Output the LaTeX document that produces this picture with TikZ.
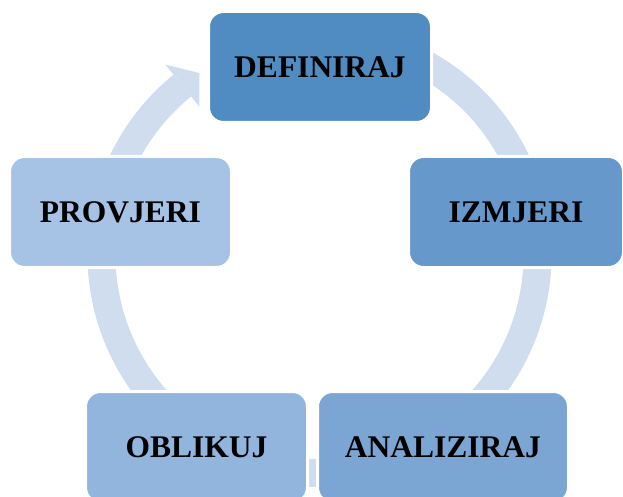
\documentclass[tikz,border=0pt]{standalone}
\usepackage{fontspec}
\setmainfont{Liberation Serif}
\definecolor{ringblue}{RGB}{208,221,239}
\definecolor{defblue}{RGB}{80,140,193}
\definecolor{izmblue}{RGB}{102,152,203}
\definecolor{anablue}{RGB}{123,166,212}
\definecolor{oblblue}{RGB}{145,181,221}
\definecolor{problue}{RGB}{166,194,229}
\tikzset{
	phase/.style={draw=white, line width=3pt, rounded corners=15pt, minimum height=111,
		text=black, font=\fontsize{31.5}{36}\selectfont\bfseries}
}

\begin{document}
\begin{tikzpicture}[x=1pt,y=-1pt]
	\useasboundingbox (0,0) rectangle (623,497);
	\coordinate (c) at (319.5,255);
	% ring with its arrow head, behind the boxes
	\draw[ringblue, line width=28pt] ([shift={(c)}]245:218) arc[start angle=245, end angle=591, radius=218];
	\fill[ringblue] ([shift={(c)}]231:245) -- ([shift={(c)}]236.6:218) -- ([shift={(c)}]231:191) -- cycle;

	\node[phase, fill=defblue, minimum width=223] (def) at (320,67) {DEFINIRAJ};
	\node[phase, fill=izmblue, minimum width=215] (izm) at (516,212) {IZMJERI};
	\node[phase, fill=anablue, minimum width=251] (ana) at (443,447) {ANALIZIRAJ};
	\node[phase, fill=oblblue, minimum width=222] (obl) at (196.5,447) {OBLIKUJ};
	\node[phase, fill=problue, minimum width=222] (pro) at (120.5,212) {PROVJERI};
\end{tikzpicture}
\end{document}
